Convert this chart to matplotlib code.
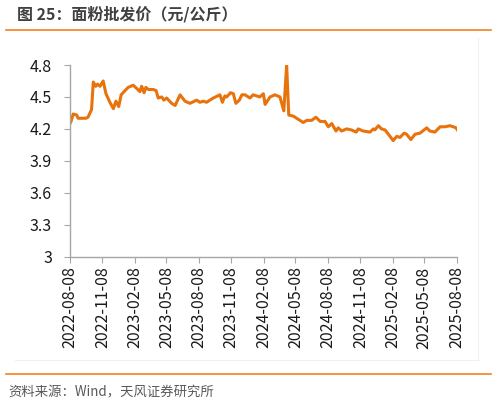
import pandas as pd
import matplotlib
matplotlib.use("Agg")
import matplotlib.pyplot as plt
from matplotlib.ticker import FuncFormatter

plt.rcParams['font.family'] = ['Noto Sans CJK SC', 'DejaVu Sans']

# 面粉批发价（元/公斤）
dates = [
    "2022-08-08", "2022-08-11", "2022-08-17", "2022-08-27", "2022-08-31", "2022-09-22",
    "2022-09-28", "2022-10-08", "2022-10-13", "2022-10-20", "2022-10-25", "2022-11-01",
    "2022-11-10", "2022-11-18", "2022-11-29", "2022-12-09", "2022-12-16", "2022-12-24",
    "2022-12-31", "2023-01-11", "2023-01-20", "2023-02-03", "2023-02-13", "2023-02-22",
    "2023-02-27", "2023-03-06", "2023-03-11", "2023-03-18", "2023-04-01", "2023-04-09",
    "2023-04-15", "2023-04-25", "2023-05-01", "2023-05-09", "2023-05-23", "2023-06-02",
    "2023-06-16", "2023-06-30", "2023-07-14", "2023-08-02", "2023-08-11", "2023-08-21",
    "2023-08-30", "2023-09-18", "2023-10-07", "2023-10-14", "2023-10-21", "2023-10-26",
    "2023-11-06", "2023-11-14", "2023-11-21", "2023-12-01", "2023-12-08", "2023-12-17",
    "2023-12-31", "2024-01-09", "2024-01-19", "2024-01-28", "2024-02-07", "2024-02-12",
    "2024-02-26", "2024-03-11", "2024-03-25", "2024-04-05", "2024-04-13", "2024-04-19",
    "2024-05-02", "2024-05-16", "2024-05-30", "2024-06-09", "2024-06-23", "2024-07-05",
    "2024-07-17", "2024-07-31", "2024-08-09", "2024-08-19", "2024-08-31", "2024-09-06",
    "2024-09-16", "2024-09-30", "2024-10-14", "2024-10-27", "2024-11-02", "2024-11-16",
    "2024-12-05", "2024-12-15", "2024-12-19", "2024-12-29", "2025-01-07", "2025-01-17",
    "2025-01-31", "2025-02-09", "2025-02-19", "2025-02-28", "2025-03-12", "2025-03-19",
    "2025-03-31", "2025-04-12", "2025-04-26", "2025-05-15", "2025-05-24", "2025-06-07",
    "2025-06-22", "2025-07-06", "2025-07-20", "2025-07-29", "2025-08-06", "2025-08-12",
]
prices = [
    4.25, 4.27, 4.34, 4.33, 4.30, 4.30,
    4.31, 4.38, 4.64, 4.60, 4.62, 4.60,
    4.65, 4.53, 4.45, 4.39, 4.46, 4.41,
    4.52, 4.56, 4.59, 4.61, 4.58, 4.55,
    4.60, 4.54, 4.59, 4.57, 4.57, 4.56,
    4.49, 4.50, 4.47, 4.49, 4.44, 4.42,
    4.52, 4.46, 4.44, 4.47, 4.45, 4.46,
    4.45, 4.49, 4.52, 4.45, 4.51, 4.50,
    4.54, 4.53, 4.44, 4.47, 4.52, 4.52,
    4.49, 4.52, 4.51, 4.50, 4.53, 4.43,
    4.50, 4.52, 4.50, 4.37, 4.80, 4.33,
    4.32, 4.29, 4.26, 4.28, 4.28, 4.31,
    4.27, 4.27, 4.22, 4.25, 4.18, 4.21,
    4.18, 4.20, 4.19, 4.17, 4.20, 4.18,
    4.17, 4.20, 4.19, 4.23, 4.20, 4.19,
    4.13, 4.09, 4.13, 4.12, 4.16, 4.15,
    4.10, 4.15, 4.16, 4.21, 4.18, 4.17,
    4.22, 4.22, 4.23, 4.22, 4.21, 4.18,
]
tick_dates = [
    "2022-08-08", "2022-11-08", "2023-02-08", "2023-05-08", "2023-08-08",
    "2023-11-08", "2024-02-08", "2024-05-08", "2024-08-08", "2024-11-08",
    "2025-02-08", "2025-05-08", "2025-08-08",
]
y_ticks = [3, 3.3, 3.6, 3.9, 4.2, 4.5, 4.8]

x = pd.to_datetime(dates)
xt = pd.to_datetime(tick_dates)

fig = plt.figure(figsize=(4.96, 4.04), dpi=100)
ax = fig.add_axes([70 / 496, 1 - 256.7 / 404, (456.7 - 70) / 496, (256.7 - 65) / 404])

ax.plot(x, prices, color='#E8720C', lw=2.2, solid_joinstyle='round')

ax.set_ylim(3, 4.8)
ax.set_yticks(y_ticks)
ax.yaxis.set_major_formatter(FuncFormatter(lambda v, p: f"{v:g}"))
ax.set_xlim(xt[0], xt[-1])
ax.set_xticks(xt)
ax.set_xticklabels(tick_dates, rotation=90)

for s in ['top', 'right']:
    ax.spines[s].set_visible(False)
for s in ['left', 'bottom']:
    ax.spines[s].set_color('#a6a6a6')
    ax.spines[s].set_linewidth(1)
ax.tick_params(axis='both', colors='#a6a6a6', labelcolor='#1a1a1a', labelsize=11.5, length=4)
ax.tick_params(axis='y', pad=9)
ax.tick_params(axis='x', pad=3)

# faint chart frame (right and bottom edges)
fig.add_artist(plt.Line2D([478 / 496] * 2, [1 - 38 / 404, 1 - 360 / 404], color='#f0f0f0', lw=0.8))
fig.add_artist(plt.Line2D([15 / 496, 478 / 496], [1 - 360 / 404] * 2, color='#f0f0f0', lw=0.8))

# title, rules and source
fig.text(17 / 496, 1 - 14 / 404, "图 25：面粉批发价（元/公斤）", fontsize=11.5, fontweight='bold',
         color='#404040', va='center', ha='left')
fig.add_artist(plt.Line2D([6 / 496, 491 / 496], [1 - 30 / 404] * 2, color='#F58220', lw=1.2))
fig.add_artist(plt.Line2D([6 / 496, 491 / 496], [1 - 374 / 404] * 2, color='#F58220', lw=1.2))
fig.text(8 / 496, 1 - 392 / 404, "资料来源：Wind，天风证券研究所", fontsize=9.6, color='#595959',
         va='center', ha='left')

fig.savefig("out.png", dpi=100)
